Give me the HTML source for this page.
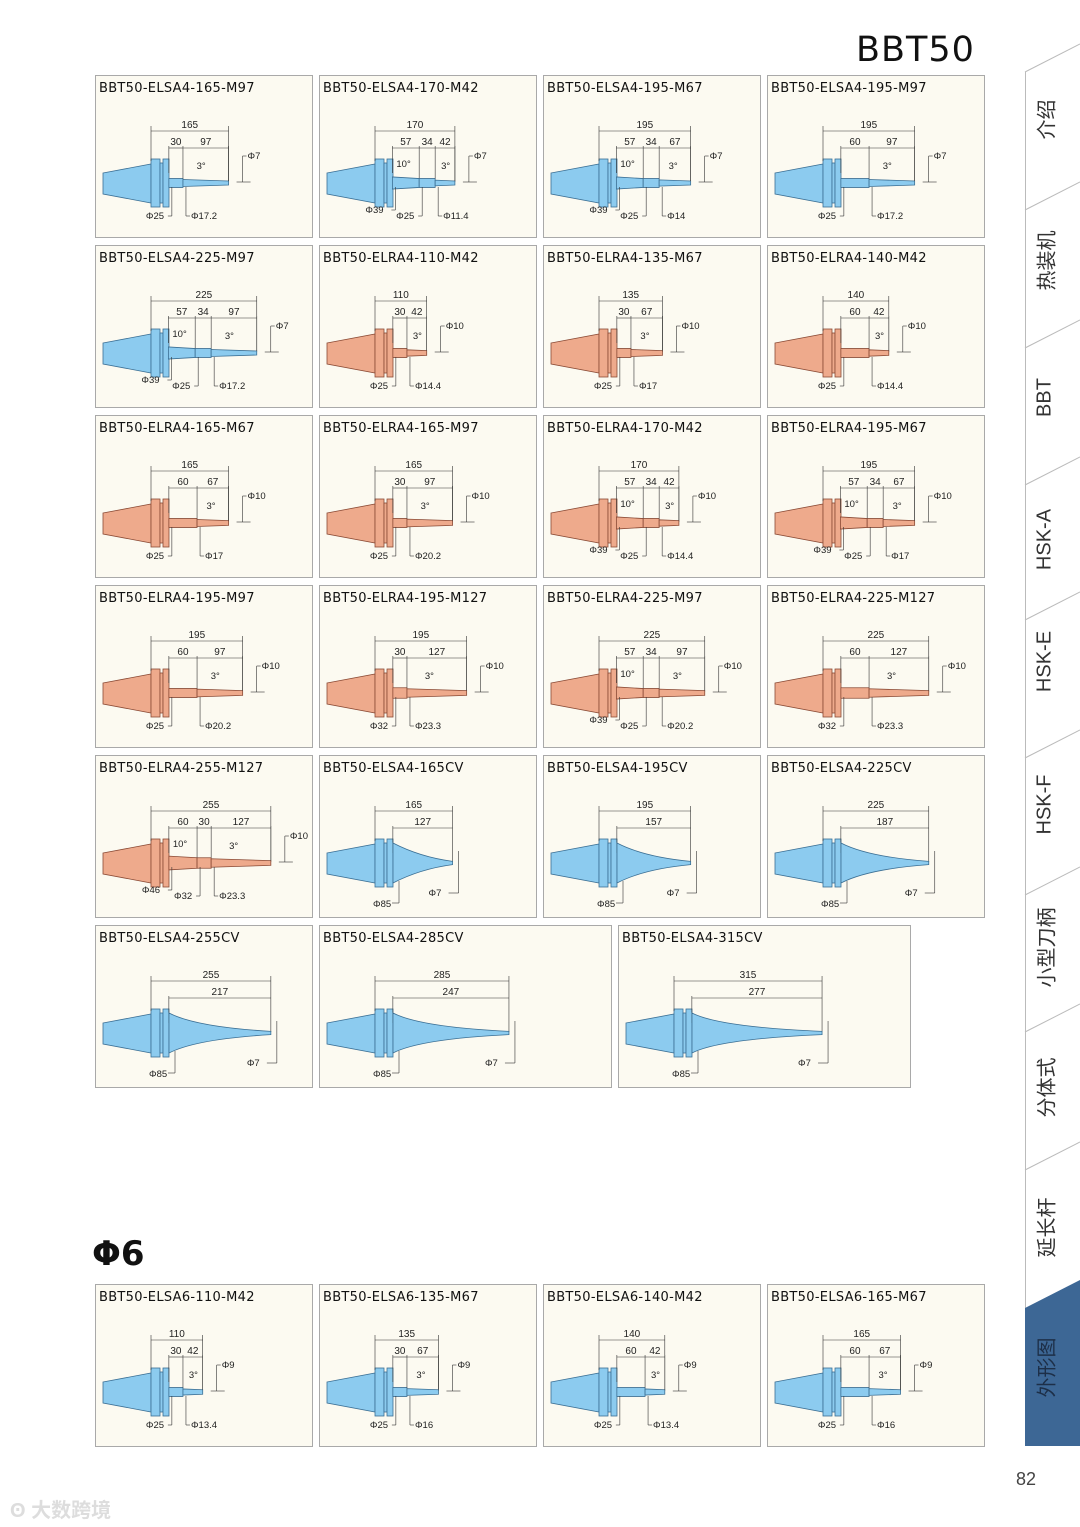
<!DOCTYPE html>
<html><head><meta charset="utf-8">
<style>
html,body{margin:0;padding:0;background:#fff;}
body{width:1080px;height:1527px;position:relative;overflow:hidden;font-family:"Liberation Sans","Noto Sans CJK SC",sans-serif;}
.card{position:absolute;background:#fcfaf1;border:1px solid #a9a9a9;box-sizing:border-box;}
.card .t{position:absolute;left:3px;top:5px;color:#111;letter-spacing:0.3px;font-family:"DejaVu Sans","Liberation Sans",sans-serif;font-size:13px;}
.card svg{position:absolute;left:0;top:0;}
.tab{position:absolute;left:1030px;width:50px;font-size:20px;color:#333;transform:rotate(-90deg);white-space:nowrap;text-align:center;}
</style></head>
<body>
<div style="position:absolute;left:856px;top:30px;font-size:35px;font-family:'DejaVu Sans','Liberation Sans',sans-serif;color:#111;letter-spacing:1px;">BBT50</div>
<div style="position:absolute;left:92px;top:1234px;font-size:34px;font-weight:bold;color:#111;font-family:'DejaVu Sans',sans-serif;">Φ6</div>
<div style="position:absolute;left:1016px;top:1469px;font-size:18px;color:#444;">82</div>
<div style="position:absolute;left:10px;top:1494px;font-size:20px;color:#ddd;font-weight:bold;">ʘ 大数跨境</div>

<svg width="1080" height="1527" style="position:absolute;left:0;top:0;">
  <line x1="1025.5" y1="72" x2="1025.5" y2="1446" stroke="#bbb" stroke-width="1"/>
  <g stroke="#bbb" stroke-width="1" id="seps"></g>
  <polygon points="1025,1308 1080,1280 1080,1446 1025,1446" fill="#3d6795"/>
</svg>
<div id="tabs"></div>
<div id="cards"></div>

<script>
// card data
const names=["BBT50-ELSA4-165-M97","BBT50-ELSA4-170-M42","BBT50-ELSA4-195-M67","BBT50-ELSA4-195-M97",
"BBT50-ELSA4-225-M97","BBT50-ELRA4-110-M42","BBT50-ELRA4-135-M67","BBT50-ELRA4-140-M42",
"BBT50-ELRA4-165-M67","BBT50-ELRA4-165-M97","BBT50-ELRA4-170-M42","BBT50-ELRA4-195-M67",
"BBT50-ELRA4-195-M97","BBT50-ELRA4-195-M127","BBT50-ELRA4-225-M97","BBT50-ELRA4-225-M127",
"BBT50-ELRA4-255-M127","BBT50-ELSA4-165CV","BBT50-ELSA4-195CV","BBT50-ELSA4-225CV",
"BBT50-ELSA4-255CV","BBT50-ELSA4-285CV","BBT50-ELSA4-315CV",
"BBT50-ELSA6-110-M42","BBT50-ELSA6-135-M67","BBT50-ELSA6-140-M42","BBT50-ELSA6-165-M67"];
const totals=[165,170,195,195,225,110,135,140,165,165,170,195,195,195,225,225,255,165,195,225,255,285,315,110,135,140,165];
const subs=[[30,97],[57,34,42],[57,34,67],[60,97],[57,34,97],[30,42],[30,67],[60,42],[60,67],[30,97],[57,34,42],[57,34,67],
[60,97],[30,127],[57,34,97],[60,127],[60,30,127],[127],[157],[187],[217],[247],[277],[30,42],[30,67],[60,42],[60,67]];
const diams=[[25,17.2],[39,25,11.4],[39,25,14],[25,17.2],[39,25,17.2],[25,14.4],[25,17],[25,14.4],[25,17],[25,20.2],[39,25,14.4],[39,25,17],
[25,20.2],[32,23.3],[39,25,20.2],[32,23.3],[46,32,23.3],[85],[85],[85],[85],[85],[85],[25,13.4],[25,16],[25,13.4],[25,16]];
const tips=[7,7,7,7,7,10,10,10,10,10,10,10,10,10,10,10,10,7,7,7,7,7,7,9,9,9,9];
const colors=["b","b","b","b","b","r","r","r","r","r","r","r","r","r","r","r","r","b","b","b","b","b","b","b","b","b","b"];

const colX=[95,319,543,767];
const rowY=[75,245,415,585,755,925];
function pos(i){
  if(i<20) return [colX[i%4],rowY[Math.floor(i/4)],218];
  if(i===20) return [95,925,218];
  if(i===21) return [319,925,293];
  if(i===22) return [618,925,293];
  return [colX[i-23],1284,218];
}
const S=0.47, X0=55, CY=107;
const xs=mm=>X0+mm*S;
function fmt(d){return "Φ"+d;}

const cont=document.getElementById('cards');
names.forEach((nm,i)=>{
  const [x,y,w]=pos(i);
  const fill=colors[i]==="b"?"#8ccbef":"#eeaa8c", st=colors[i]==="b"?"#3b6f94":"#8a4a35";
  const L=totals[i], sb=subs[i], ds=diams[i], cv=nm.endsWith("CV");
  const end=xs(L);
  const sum=sb.reduce((a,b)=>a+b,0);
  let g='';
  g+=`<polygon points="7,${CY-10} 55,${CY-19} 55,${CY+20} 7,${CY+11}" fill="${fill}" stroke="${st}" stroke-width="0.8"/>`;
  g+=`<rect x="55" y="${CY-24}" width="9" height="48" fill="${fill}" stroke="${st}" stroke-width="0.8"/>`;
  g+=`<rect x="64" y="${CY-20}" width="3" height="40" fill="${fill}" stroke="${st}" stroke-width="0.8"/>`;
  g+=`<rect x="67" y="${CY-24}" width="6" height="48" fill="${fill}" stroke="${st}" stroke-width="0.8"/>`;
  const dl=(x1,x2,yy,lab)=>`<line x1="${x1}" y1="${yy}" x2="${x2}" y2="${yy}" stroke="#333" stroke-width="0.6"/><text x="${(x1+x2)/2}" y="${yy-3}" font-size="10" text-anchor="middle" fill="#222">${lab}</text>`;
  g+=`<line x1="55" y1="${CY-57}" x2="55" y2="${CY-22}" stroke="#333" stroke-width="0.6"/><line x1="${end}" y1="${CY-57}" x2="${end}" y2="${CY-1}" stroke="#333" stroke-width="0.6"/>`;
  g+=dl(55,end,CY-52,L);
  let sx=end-sum*S;
  g+=`<line x1="${sx}" y1="${CY-37}" x2="${sx}" y2="${CY-10}" stroke="#333" stroke-width="0.6"/>`;
  if(cv){
    const r0=20, rt=Math.max(1.6,tips[i]*S/2);
    g+=`<path d="M73,${CY-r0} Q100,${CY-6} ${end},${CY-rt} L${end},${CY+rt} Q100,${CY+6} 73,${CY+r0} Z" fill="${fill}" stroke="${st}" stroke-width="0.8"/>`;
    g+=dl(sx,end,CY-35,sb[0]);
    g+=`<line x1="${end+6}" y1="${CY-12}" x2="${end+6}" y2="${CY+30}" stroke="#333" stroke-width="0.6"/><line x1="${end-4}" y1="${CY+30}" x2="${end+6}" y2="${CY+30}" stroke="#333" stroke-width="0.6"/>`;
    g+=`<text x="${end-24}" y="${CY+33}" font-size="9.5" fill="#222">${fmt(tips[i])}</text>`;
    g+=`<line x1="79" y1="${CY+18}" x2="79" y2="${CY+40}" stroke="#333" stroke-width="0.6"/><line x1="72" y1="${CY+40}" x2="79" y2="${CY+40}" stroke="#333" stroke-width="0.6"/>`;
    g+=`<text x="53" y="${CY+44}" font-size="9.5" fill="#222">${fmt(ds[0])}</text>`;
  } else {
    let cx=sx;
    sb.forEach((s,k)=>{
      const nx=cx+s*S, last=k===sb.length-1;
      const d1=ds[k]*S/2*0.5+1.5;
      const dn=last?tips[i]*S/2*0.5+1.2:(ds[k]===39||ds[k]===46?ds[k+1]*S/2*0.5+1.5:d1);
      g+=`<polygon points="${cx},${CY-d1} ${nx},${CY-dn} ${nx},${CY+dn} ${cx},${CY+d1}" fill="${fill}" stroke="${st}" stroke-width="0.8"/>`;
      g+=dl(cx,nx,CY-35,s);
      g+=`<line x1="${nx}" y1="${CY-37}" x2="${nx}" y2="${CY-dn}" stroke="#333" stroke-width="0.6"/>`;
      if(ds[k]===39||ds[k]===46) g+=`<text x="${cx+4}" y="${CY-16}" font-size="9.5" fill="#222">10°</text>`;
      if(last) g+=`<text x="${cx+(nx-cx)*0.3}" y="${CY-14}" font-size="9.5" fill="#222">3°</text>`;
      cx=nx;
    });
    const n=ds.length;
    ds.forEach((d,k)=>{
      let segStart=sx; for(let q=0;q<k;q++) segStart+=sb[q]*S;
      const lx=segStart+3;
      const yy = n===3? (k===0?CY+27:CY+33) : CY+33;
      const tx = (k===n-1)? lx+5 : lx-26;
      g+=`<line x1="${lx}" y1="${CY+4}" x2="${lx}" y2="${yy}" stroke="#333" stroke-width="0.6"/>`;
      g+=`<line x1="${k===n-1?lx:lx-4}" y1="${yy}" x2="${k===n-1?lx+4:lx}" y2="${yy}" stroke="#333" stroke-width="0.6"/>`;
      g+=`<text x="${n===3&&k===0?lx-30:tx}" y="${yy+3}" font-size="9.5" fill="#222">${fmt(d)}</text>`;
    });
    g+=`<line x1="${end+14}" y1="${CY-27}" x2="${end+14}" y2="${CY-1}" stroke="#333" stroke-width="0.6"/><line x1="${end+14}" y1="${CY-27}" x2="${end+18}" y2="${CY-27}" stroke="#333" stroke-width="0.6"/><line x1="${end+8}" y1="${CY-1}" x2="${end+22}" y2="${CY-1}" stroke="#333" stroke-width="0.6"/>`;
    g+=`<text x="${end+19}" y="${CY-24}" font-size="9.5" fill="#222">${fmt(tips[i])}</text>`;
  }
  const c=document.createElement('div');
  c.className='card';
  
  
  c.style.left=x+'px';c.style.top=y+'px';c.style.width=w+'px';c.style.height='163px';
  c.innerHTML=`<div class="t">${nm}</div><svg width="${w}" height="163">${g}</svg>`;
  cont.appendChild(c);
});

const tabLabels=["介绍","热装机","BBT","HSK-A","HSK-E","HSK-F","小型刀柄","分体式","延长杆","外形图"];
const tabCenters=[117,258,398,540,662,805,945,1085,1225,1365];
const sepY=[72,210,348,485,620,758,895,1032,1170];
const seps=document.getElementById('seps');
sepY.forEach(v=>{
  const l=document.createElementNS('http://www.w3.org/2000/svg','line');
  
  
  l.setAttribute('x1',1025);l.setAttribute('y1',v);l.setAttribute('x2',1080);l.setAttribute('y2',v-28);
  seps.appendChild(l);
});
const tabs=document.getElementById('tabs');
tabLabels.forEach((t,k)=>{
  const d=document.createElement('div');
  d.className='tab';
  
  
  d.style.top=(tabCenters[k]-12)+'px';
  d.style.width='80px';d.style.left='1005px';
  if(k===9){d.style.color='#1d2f48';}
  d.textContent=t;
  tabs.appendChild(d);
});
</script>
</body></html>
